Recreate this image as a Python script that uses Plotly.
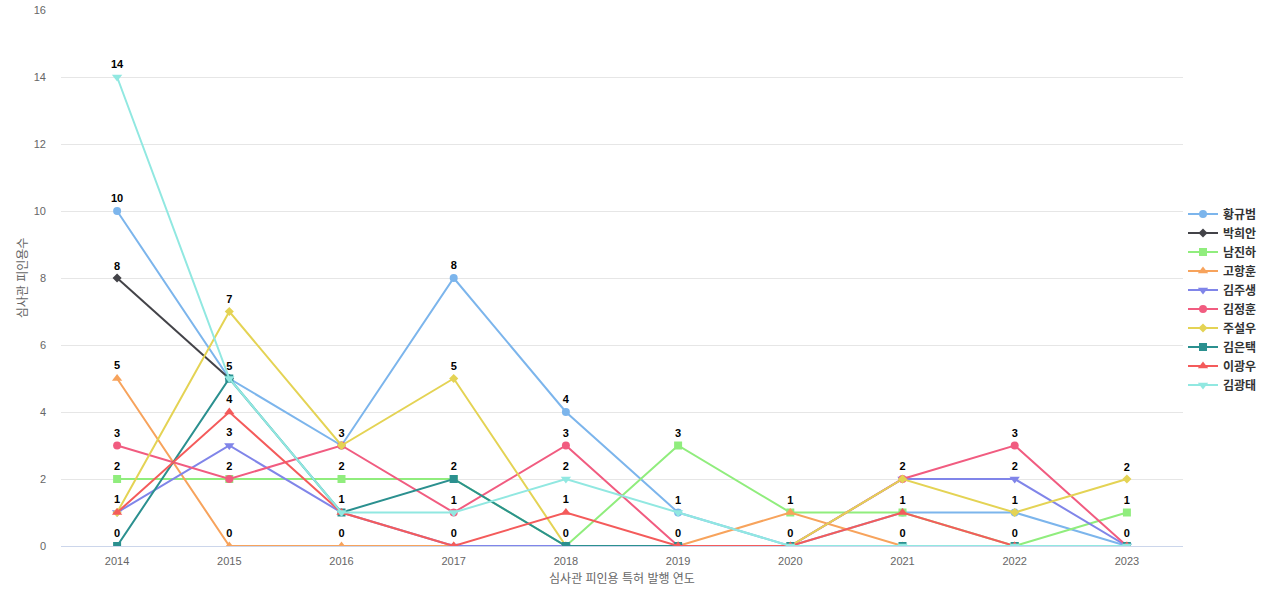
import plotly.graph_objects as go

years = ["2014", "2015", "2016", "2017", "2018", "2019", "2020", "2021", "2022", "2023"]

names = ["황규범", "박희안", "남진하", "고항훈", "김주생", "김정훈", "주설우", "김은택", "이광우", "김광태"]

hwang_gyubeom = [10, 5, 3, 8, 4, 1, 0, 1, 1, 0]
park_huian = [8, 5, None, None, None, None, None, None, None, None]
nam_jinha = [2, 2, 2, 2, 0, 3, 1, 1, 0, 1]
go_hanghun = [5, 0, 0, 0, 0, 0, 1, 0, 0, 0]
kim_jusaeng = [1, 3, 1, 0, 0, 0, 0, 2, 2, 0]
kim_jeonghun = [3, 2, 3, 1, 3, 0, 0, 2, 3, 0]
ju_seolu = [1, 7, 3, 5, 0, 0, 0, 2, 1, 2]
kim_euntaek = [0, 5, 1, 2, 0, 0, 0, 0, 0, 0]
lee_gwangu = [1, 4, 1, 0, 1, 0, 0, 1, 0, 0]
kim_gwangtae = [14, 5, 1, 1, 2, 1, 0, 0, 0, 0]

series = [hwang_gyubeom, park_huian, nam_jinha, go_hanghun, kim_jusaeng,
          kim_jeonghun, ju_seolu, kim_euntaek, lee_gwangu, kim_gwangtae]

colors = ["#7cb5ec", "#434348", "#90ed7d", "#f7a35c", "#8085e9",
          "#f15c80", "#e4d354", "#2b908f", "#f45b5b", "#91e8e1"]
symbols = ["circle", "diamond", "square", "triangle-up", "triangle-down",
           "circle", "diamond", "square", "triangle-up", "triangle-down"]
sizes = [8, 7, 8, 9, 9, 8, 7, 8, 9, 9]

fig = go.Figure()
seen = set()
for name, vals, col, sym, sz in zip(names, series, colors, symbols, sizes):
    texts = []
    for yr, v in zip(years, vals):
        if v is None or (yr, v) in seen:
            texts.append("")
        else:
            seen.add((yr, v))
            texts.append(f"<b>{v}</b>")
    fig.add_trace(go.Scatter(
        x=years, y=vals, name=name, mode="lines+markers+text",
        line=dict(color=col, width=2),
        marker=dict(color=col, symbol=sym, size=sz),
        text=texts, textposition="top center",
        textfont=dict(family="Liberation Sans, Arial, sans-serif", size=11, color="#000000"),
        connectgaps=False,
    ))

font_family = "Liberation Sans, Arial, 'Noto Sans CJK KR', sans-serif"

fig.update_layout(
    width=1280, height=600,
    margin=dict(l=61, r=97, t=10, b=54),
    paper_bgcolor="white", plot_bgcolor="white",
    font=dict(family=font_family, size=11, color="#666666"),
    showlegend=True,
    legend=dict(
        x=1.0, xanchor="left", y=0.46, yanchor="middle",
        font=dict(family=font_family, size=12, color="#333333", weight="bold"),
        tracegroupgap=0, bgcolor="rgba(0,0,0,0)",
    ),
    xaxis=dict(
        type="category", categoryorder="array", categoryarray=years,
        range=[-0.5, 9.5], showgrid=False, zeroline=False, automargin=False,
        showline=True, linecolor="#ccd6eb", linewidth=1,
        ticks="", ticklabelstandoff=5, tickfont=dict(size=11, color="#666666"),
        title=dict(text="심사관 피인용 특허 발행 연도", font=dict(size=12, color="#666666"), standoff=8),
    ),
    yaxis=dict(
        range=[0, 16], dtick=2, showgrid=True, gridcolor="#e6e6e6",
        zeroline=False, showline=False, ticks="", automargin=False,
        ticklabelstandoff=14,
        tickfont=dict(size=11, color="#666666"),
        title=dict(text="심사관 피인용수", font=dict(size=12, color="#666666"), standoff=3),
    ),
)

fig.write_html("out.html")
